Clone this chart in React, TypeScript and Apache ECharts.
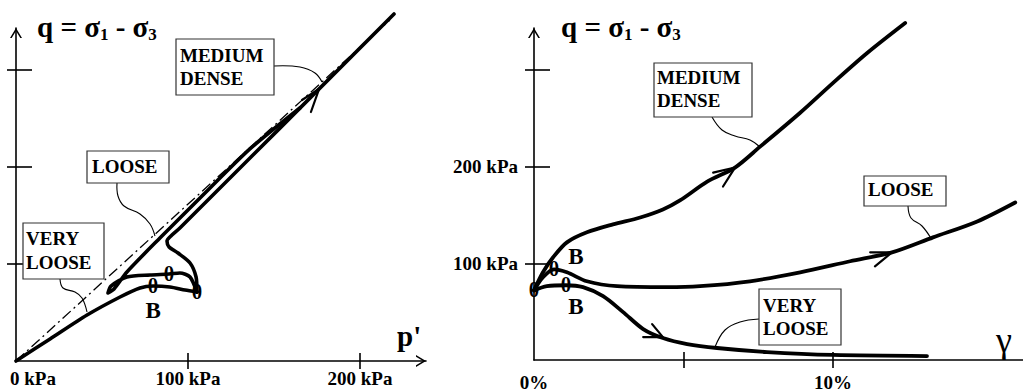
import React, { useEffect, useRef } from "react";
import * as echarts from "echarts";

const FONT = '"Liberation Serif", "Times New Roman", serif';

// ---- axis values ----
const pLabelValues = [0, 100, 200];
const pTickValues = [100, 200];
const qTickValues = [100, 200, 300];
const qLabelValues = [100, 200];
const gammaLabelValues = [0, 10];
const gammaTickValues = [5, 10];

// ---- left panel: stress paths (p', q) in kPa ----
const dashDotLine = [[0, 0], [217.4, 351.5]];
const leftVeryLoose = [[105.2, 71.1], [98.3, 73.2], [89.5, 76.3], [79.7, 77.3], [72.1, 75.3], [60.5, 66.0], [41.3, 47.4], [19.8, 22.7], [0, 0]];
const leftLoose = [[105.2, 71.1], [101.2, 86.6], [95.3, 90.7], [89.0, 89.7], [77.9, 88.7], [64.5, 86.6], [55.2, 77.3], [53.5, 70.1], [57.0, 74.2], [64.5, 91.8], [83.7, 126.8], [107.0, 168.0], [136.0, 218.6], [165.1, 260.8]];
const leftMedium = [[105.2, 71.1], [104.7, 86.6], [101.2, 101.0], [94.2, 111.3], [89.0, 117.5], [87.8, 123.7], [90.1, 128.9], [95.3, 137.1], [219.8, 357.7]];
const leftMediumArrow = [[166.3, 269.1], [176.2, 280.4], [171.5, 256.7]];
const leftThetas = [[105.2, 71.1], [89.0, 89.7], [79.7, 77.3]];
const leftBs = [[79.7, 52.0]];

// ---- right panel: q vs shear strain (%) ----
const rightMedium = [[0, 72], [0.30, 90.7], [0.64, 106.2], [1.10, 121.6], [1.77, 132.0], [2.64, 140.2], [3.55, 147.4], [4.31, 155.7], [4.88, 165.0], [5.79, 184.5], [6.72, 199.0], [7.56, 220.6], [8.90, 255.7], [10.0, 286.6], [11.14, 317.5], [12.41, 348.5]];
const rightLoose = [[0, 72], [0.30, 85.6], [0.67, 93.8], [1.10, 90.7], [1.77, 81.4], [2.78, 76.3], [4.45, 75.3], [5.55, 76.3], [7.22, 81.4], [8.90, 90.7], [10.57, 102.1], [11.97, 111.3], [13.34, 126.8], [14.82, 143.3], [16.09, 162.9]];
const rightVeryLoose = [[0, 72], [0.43, 76.3], [1.07, 77.3], [1.64, 75.3], [2.31, 66.0], [2.98, 49.5], [3.65, 32.0], [4.31, 22.7], [5.12, 16.5], [6.12, 12.4], [7.79, 8.2], [10.0, 5.2], [13.14, 4.1]];
const rightMediumArrow = [[5.99, 193.8], [6.72, 199.0], [6.32, 179.4]];
const rightLooseArrow = [[11.24, 111.3], [11.97, 111.3], [11.40, 96.9]];
const rightVeryLooseArrow = [[3.65, 23.7], [4.31, 23.7], [3.95, 37.1]];
const rightThetas = [[0, 72], [0.67, 93.8], [1.07, 77.3]];
const rightBs = [[1.40, 107.2], [1.40, 55.0]];

const ARROW = "path://M0,10 L6,0 L12,10 L10.3,10 L6,2.9 L1.7,10 Z";

const labelFont = { color: "#000", fontFamily: FONT, fontWeight: "bold" as const, fontSize: 19 };

function mainX(grid: number, min: number, max: number, ticks: number[], labels: number[], fmt: any, margin: number, arrow: boolean) {
  return {
    gridIndex: grid, type: "value", min, max, position: "bottom",
    axisLine: {
      show: true, onZero: false, lineStyle: { color: "#000", width: 1.6 },
      symbol: arrow ? ["none", ARROW] : ["none", "none"], symbolSize: [13, 10], symbolOffset: [0, -5],
    },
    axisTick: { show: true, inside: false, length: 8, lineStyle: { color: "#000", width: 1.6 }, customValues: ticks },
    axisLabel: {
      show: true, customValues: labels, formatter: fmt, margin, ...labelFont,
      rich: { z: { ...labelFont, padding: [0, 0, 0, 34] } },
    },
    splitLine: { show: false },
  };
}
function innerX(grid: number, min: number, max: number, ticks: number[]) {
  return {
    gridIndex: grid, type: "value", min, max, position: "bottom",
    axisLine: { show: false, onZero: false },
    axisTick: { show: true, inside: true, length: 8, lineStyle: { color: "#000", width: 1.6 }, customValues: ticks },
    axisLabel: { show: false }, splitLine: { show: false },
  };
}
function mainY(grid: number, max: number, labels: number[] | null) {
  return {
    gridIndex: grid, type: "value", min: 0, max, position: "left",
    axisLine: {
      show: true, onZero: false, lineStyle: { color: "#000", width: 1.6 },
      symbol: ["none", ARROW], symbolSize: [12, 10], symbolOffset: [0, -5],
    },
    axisTick: { show: true, inside: false, length: 9, lineStyle: { color: "#000", width: 1.6 }, customValues: qTickValues },
    axisLabel: labels
      ? { show: true, customValues: labels, formatter: (v: number) => v + " kPa", margin: 16, ...labelFont }
      : { show: false },
    splitLine: { show: false },
  };
}
function innerY(grid: number, max: number) {
  return {
    gridIndex: grid, type: "value", min: 0, max, position: "left",
    axisLine: { show: false, onZero: false },
    axisTick: { show: true, inside: true, length: 16, lineStyle: { color: "#000", width: 1.6 }, customValues: qTickValues },
    axisLabel: { show: false }, splitLine: { show: false },
  };
}

function curve(xi: number, data: number[][], width = 3.6, smooth: number | boolean = 0.3) {
  return {
    type: "line", xAxisIndex: xi, yAxisIndex: xi, data, symbol: "none", showSymbol: false,
    smooth, clip: false, silent: true,
    lineStyle: { color: "#000", width, cap: "round", join: "round" },
  };
}
function textMarks(xi: number, data: number[][], txt: string, size: number) {
  return {
    type: "scatter", xAxisIndex: xi, yAxisIndex: xi, data, symbolSize: 0, clip: false, silent: true,
    itemStyle: { color: "#000", opacity: 1 },
    label: {
      show: true, position: "inside", formatter: txt, color: "#000", opacity: 1, fontFamily: FONT, fontWeight: "bold",
      fontSize: size, textBorderWidth: 0,
    },
    z: 5,
  };
}

const boxText = (x: number, y: number, text: string, lh: number) => ({
  type: "text", x, y, z: 101,
  style: { text, fill: "#000", font: `bold 19px ${FONT}`, lineHeight: lh, verticalAlign: "top", align: "left" },
});
const box = (x: number, y: number, w: number, h: number) => ({
  type: "rect", z: 100, shape: { x, y, width: w, height: h },
  style: { fill: "#fff", stroke: "#333", lineWidth: 1.2 },
});
const leader = (points: number[][]) => ({
  type: "polyline", z: 99, shape: { points, smooth: 0.4 },
  style: { stroke: "#000", lineWidth: 1.1, fill: null },
});
const title = (x: number) => ({
  type: "text", x, y: 11, z: 101,
  style: {
    text: "{a|q = σ}{b|1}{a| - σ}{b|3}", fill: "#000", verticalAlign: "top", align: "left",
    rich: {
      a: { fontSize: 29, fontWeight: "bold", fontFamily: FONT, lineHeight: 32, fill: "#000" },
      b: { fontSize: 17, fontWeight: "bold", fontFamily: FONT, lineHeight: 20, verticalAlign: "bottom", fill: "#000" },
    },
  },
});

export default function App() {
  const ref = useRef<HTMLDivElement>(null);
  useEffect(() => {
    if (!ref.current) return;
    const chart = echarts.init(ref.current, null, { renderer: "svg" });
    const leftXMax = 238.4;
    const rightXMax = 16.35;
    const yMax = 343.3;
    chart.setOption({
      animation: false,
      backgroundColor: "#fff",
      grid: [
        { left: 16, top: 28, width: 410, height: 333 },
        { left: 534, top: 28, width: 489, height: 333 },
      ],
      xAxis: [
        mainX(0, 0, leftXMax, pTickValues, pLabelValues, (v: number) => (v === 0 ? "{z|0 kPa}" : v + " kPa"), 8, true),
        innerX(0, 0, leftXMax, pTickValues),
        mainX(1, 0, rightXMax, gammaTickValues, gammaLabelValues, (v: number) => v + "%", 13, false),
        innerX(1, 0, rightXMax, gammaTickValues),
      ],
      yAxis: [mainY(0, yMax, null), innerY(0, yMax), mainY(1, yMax, qLabelValues), innerY(1, yMax)],
      series: [
        { ...curve(0, dashDotLine, 1.3, false), lineStyle: { color: "#000", width: 1.3, type: [11, 4, 2, 4] } },
        curve(0, leftVeryLoose, 3.6, 0.25),
        curve(0, leftLoose, 3.6, 0.25),
        curve(0, leftMedium, 3.6, 0.25),
        curve(0, leftMediumArrow, 2.2, false),
        textMarks(0, leftThetas, "θ", 20),
        textMarks(0, leftBs, "B", 23),
        curve(2, rightMedium, 3.8, 0.3),
        curve(2, rightLoose, 3.8, 0.3),
        curve(2, rightVeryLoose, 3.8, 0.3),
        curve(2, rightMediumArrow, 2.2, false),
        curve(2, rightLooseArrow, 2.2, false),
        curve(2, rightVeryLooseArrow, 2.2, false),
        textMarks(2, rightThetas, "θ", 20),
        textMarks(2, rightBs, "B", 23),
      ],
      graphic: [
        title(37),
        title(561),
        { type: "text", x: 397, y: 336, z: 101, style: { text: "p'", fill: "#000", font: `bold 29px ${FONT}`, verticalAlign: "middle", align: "left" } },
        { type: "text", x: 996, y: 340, z: 101, style: { text: "γ", fill: "#000", font: `36px ${FONT}`, verticalAlign: "middle", align: "left" } },
        leader([[274, 66], [300, 67], [315, 73], [322, 82]]),
        leader([[117, 183], [118, 196], [124, 206], [140, 214], [150, 224], [155, 236]]),
        leader([[60, 279], [63, 288], [75, 292], [82, 298], [87, 312]]),
        leader([[712, 117], [722, 130], [735, 136], [750, 140], [760, 147]]),
        leader([[908, 206], [911, 218], [922, 226], [932, 240]]),
        leader([[759, 319], [740, 322], [725, 330], [715, 347]]),
        box(176, 39, 98, 56), boxText(180, 44, "MEDIUM\nDENSE", 23),
        box(87, 151, 82, 32), boxText(92, 155, "LOOSE", 23),
        box(23, 223, 81, 56), boxText(26, 226.6, "VERY\nLOOSE", 24),
        box(654, 63, 98, 54), boxText(657, 66, "MEDIUM\nDENSE", 23),
        box(864, 176, 82, 30), boxText(868, 178, "LOOSE", 23),
        box(759, 289, 82, 56), boxText(763, 294, "VERY\nLOOSE", 23),
      ],
    });
    return () => chart.dispose();
  }, []);
  return (
    <div
      ref={ref}
      style={{ position: "fixed", left: 0, top: 0, width: 1023, height: 392, background: "#fff" }}
    />
  );
}
